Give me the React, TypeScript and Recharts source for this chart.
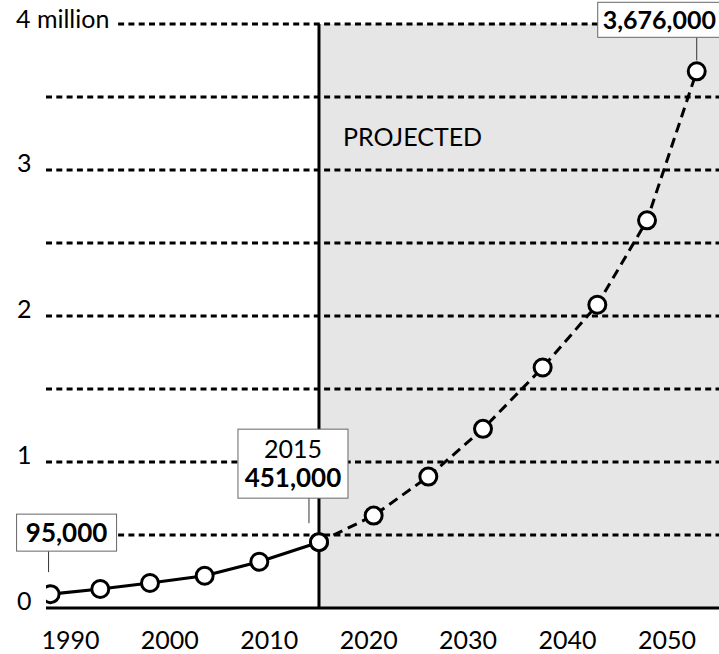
import React from 'react'
import { LineChart, Line, XAxis, YAxis, ReferenceArea, ReferenceLine, LabelList } from 'recharts'

// population in millions
const years = [1988, 1993, 1998, 2003.5, 2009, 2015, 2020.5, 2026, 2031.5, 2037.5, 2043, 2048, 2053]
const population = [0.095, 0.13, 0.171, 0.221, 0.317, 0.451, 0.633, 0.9, 1.227, 1.647, 2.077, 2.655, 3.676]
const lastActualYear = 2015
const calloutYears = [1988, 2015, 2053]
const xTicks = [1990, 2000, 2010, 2020, 2030, 2040, 2050]
const yTicks = [0, 1, 2, 3]
const gridValues = [0.5, 1, 1.5, 2, 2.5, 3, 3.5, 4]
const xDomain: [number, number] = [1987.54, 2055.24]

const data = years.map((year, i) => ({
  year,
  value: population[i],
  actual: year <= lastActualYear ? population[i] : null,
  projected: year >= lastActualYear ? population[i] : null,
}))

const FONT = 'Lato, "Open Sans", sans-serif'
const REG = 25
const BOLD = 26

const renderDot = (props: any) => {
  const { cx, cy, index } = props
  if (cy == null || cx == null) return <g key={`d${index}`} />
  return <circle key={`d${index}`} cx={cx} cy={cy} r={8.5} fill="#fff" stroke="#000" strokeWidth={3} />
}

const fmt = (v: number) => Math.round(v * 1e6).toLocaleString('en-US')

function Callout(props: any) {
  const { x, y, value, index } = props
  const year = years[index]
  if (!calloutYears.includes(year) || x == null || y == null) return null
  const boxStyle = { fill: '#fff', stroke: '#666', strokeWidth: 1 }
  if (index === 0) {
    return (
      <g>
        <line x1={x - 2} x2={x - 2} y1={y - 43} y2={y - 22} stroke="#333" strokeWidth={1} />
        <rect x={x - 34} y={y - 80} width={100} height={37} {...boxStyle} />
        <text x={x + 16} y={y - 52} textAnchor="middle" fontSize={BOLD} fontWeight={700} fill="#000">
          {fmt(value)}
        </text>
      </g>
    )
  }
  if (year === lastActualYear) {
    return (
      <g>
        <line x1={x - 10} x2={x - 10} y1={y - 44} y2={y - 19} stroke="#333" strokeWidth={1} />
        <rect x={x - 81} y={y - 113} width={110} height={69} {...boxStyle} />
        <text x={x - 26} y={y - 84} textAnchor="middle" fontSize={REG} fill="#000">
          {year}
        </text>
        <text x={x - 26} y={y - 55} textAnchor="middle" fontSize={BOLD} fontWeight={700} fill="#000">
          {fmt(value)}
        </text>
      </g>
    )
  }
  return (
    <g>
      <line x1={x} x2={x} y1={y - 34} y2={y - 11} stroke="#333" strokeWidth={1} />
      <rect x={x - 99} y={y - 69} width={140} height={35} {...boxStyle} />
      <text x={x - 94} y={y - 42} fontSize={BOLD - 1} fontWeight={700} fill="#000">
        {fmt(value)}
      </text>
    </g>
  )
}

const YTick = (props: any) => {
  const { y, payload } = props
  return (
    <text x={17} y={y + 2} fontSize={REG} fill="#000">
      {payload.value}
    </text>
  )
}

const TopLabel = (props: any) => {
  const { viewBox } = props
  if (!viewBox) return null
  return (
    <g>
      <rect x={0} y={viewBox.y - 24} width={116} height={34} fill="#fff" />
      <text x={16} y={viewBox.y + 4} fontSize={REG} fill="#000">
        4 million
      </text>
    </g>
  )
}

const ProjectedLabel = (props: any) => {
  const { viewBox } = props
  if (!viewBox) return null
  return (
    <text x={viewBox.x + 24} y={viewBox.y + 122} fontSize={REG} fill="#000">
      PROJECTED
    </text>
  )
}

export default function App() {
  return (
    <div style={{ position: 'absolute', left: 0, top: 0, fontFamily: FONT }}>
      <LineChart width={719} height={654} data={data} margin={{ top: 24, right: 0, bottom: 0, left: 0 }}>
        <ReferenceArea
          x1={lastActualYear}
          x2={xDomain[1]}
          y1={0}
          y2={4}
          fill="#e6e6e6"
          fillOpacity={1}
          stroke="none"
          label={<ProjectedLabel />}
        />
        {gridValues.map((v) => (
          <ReferenceLine
            key={v}
            y={v}
            stroke="#000"
            strokeWidth={2.8}
            strokeDasharray="6 4.3"
            label={v === 4 ? <TopLabel /> : undefined}
          />
        ))}
        <ReferenceLine x={lastActualYear} stroke="#000" strokeWidth={3} />
        <XAxis
          dataKey="year"
          type="number"
          domain={xDomain}
          allowDataOverflow
          ticks={xTicks}
          height={46}
          axisLine={{ stroke: '#000', strokeWidth: 3 }}
          tickLine={false}
          tickSize={0}
          tickMargin={23}
          tick={{ fontSize: REG, fill: '#000' }}
        />
        <YAxis
          type="number"
          domain={[0, 4]}
          ticks={yTicks}
          width={46}
          axisLine={false}
          tickLine={false}
          tick={<YTick />}
        />
        <Line
          dataKey="projected"
          stroke="#000"
          strokeWidth={3}
          strokeDasharray="10 6"
          dot={renderDot}
          activeDot={false}
          isAnimationActive={false}
        />
        <Line
          dataKey="actual"
          stroke="#000"
          strokeWidth={3.2}
          dot={renderDot}
          activeDot={false}
          isAnimationActive={false}
        />
        <Line dataKey="value" stroke="none" dot={false} activeDot={false} isAnimationActive={false}>
          <LabelList dataKey="value" content={<Callout />} />
        </Line>
      </LineChart>
    </div>
  )
}
